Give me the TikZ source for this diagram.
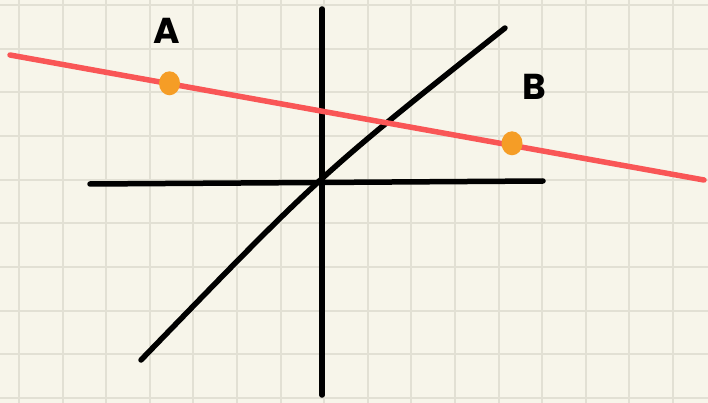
\documentclass[tikz,border=0pt]{standalone}
\usepackage{fontspec}
\usetikzlibrary{shapes.geometric}
\setmainfont{Poppins}
\definecolor{paper}{HTML}{F7F5EA}
\definecolor{gridc}{HTML}{E2E0D4}
\definecolor{redl}{HTML}{F95656}
\definecolor{orangep}{HTML}{F59D26}
\tikzset{
  axisline/.style={line width=5.5pt, black, line cap=round},
  redline/.style={line width=5.5pt, redl, line cap=round},
  ptdot/.style={ellipse, fill=orangep, minimum width=21pt, minimum height=24pt, inner sep=0pt},
  lbl/.style={font=\fontsize{36}{40}\selectfont\bfseries, text=black, inner sep=0pt}
}
\begin{document}
\begin{tikzpicture}[x=1pt,y=-1pt]
\fill[paper] (0,0) rectangle (708,403);
\useasboundingbox (0,0) rectangle (708,403);
\foreach \i in {0,...,15} {
  \draw[gridc, line width=2pt] ({19+43.6*\i},0) -- ({19+43.6*\i},403);
}
\foreach \j in {0,...,9} {
  \draw[gridc, line width=2pt] (0,{5+43.65*\j}) -- (708,{5+43.65*\j});
}
\coordinate (vt) at (322,9);
\coordinate (vb) at (322,395);
\coordinate (hl) at (90,184);
\coordinate (hr) at (543,181);
\coordinate (dl) at (141,360);
\coordinate (dc) at (321,174);
\coordinate (dr) at (505,28);
\coordinate (rl) at (10,55);
\coordinate (rr) at (704,180);
\draw[axisline] (vt) -- (vb);
\draw[axisline] (hl) -- (hr);
\draw[axisline] (dl) .. controls (dc) .. (dr);
\draw[redline] (rl) -- (rr);
\node[ptdot] (A) at (169.5,83.3) {};
\node[ptdot] (B) at (512,143.3) {};
\node[lbl] (lA) at (167,31) {A};
\node[lbl] (lB) at (534,87) {B};
\end{tikzpicture}
\end{document}
